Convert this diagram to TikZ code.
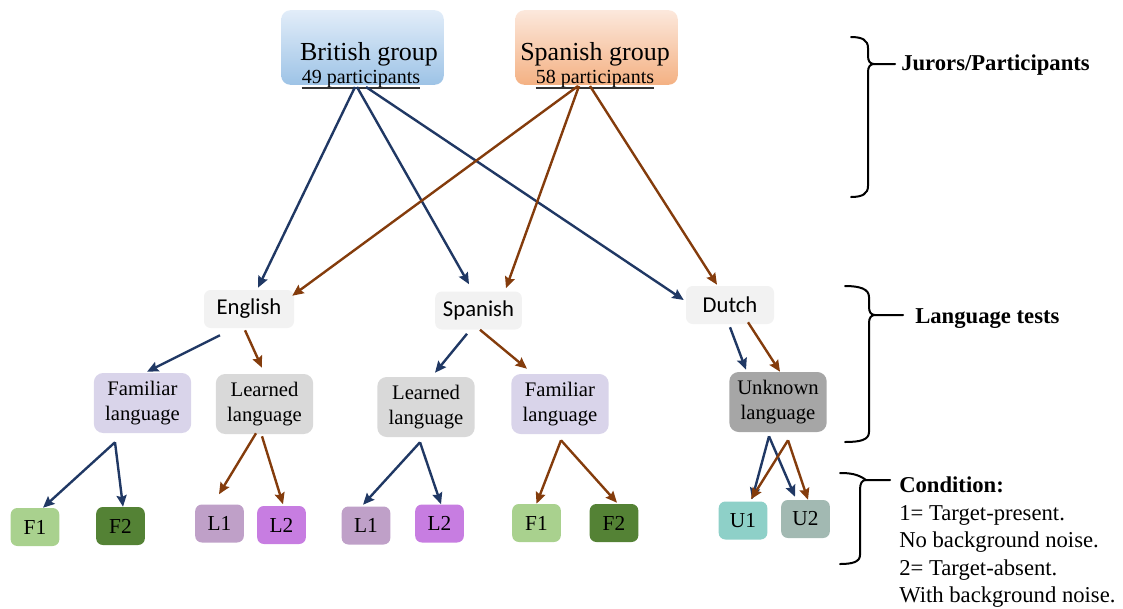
\documentclass[tikz,border=0pt]{standalone}
\usepackage{fontspec}
\setmainfont{Liberation Serif}
\newfontfamily\calfont{Carlito}
\usetikzlibrary{arrows.meta,calc}
\definecolor{navyc}{RGB}{32,56,100}
\definecolor{brownc}{RGB}{132,60,12}
\definecolor{bluetop}{RGB}{226,237,249}
\definecolor{bluebot}{RGB}{157,195,230}
\definecolor{orgtop}{RGB}{252,232,220}
\definecolor{orgbot}{RGB}{244,177,131}
\definecolor{langc}{RGB}{242,242,242}
\definecolor{famc}{RGB}{217,212,234}
\definecolor{lrnc}{RGB}{217,217,217}
\definecolor{unkc}{RGB}{166,166,166}
\definecolor{fonec}{RGB}{169,209,142}
\definecolor{ftwoc}{RGB}{84,130,53}
\definecolor{lonec}{RGB}{191,160,200}
\definecolor{ltwoc}{RGB}{199,125,225}
\definecolor{uonec}{RGB}{142,208,200}
\definecolor{utwoc}{RGB}{162,185,178}
\begin{document}
\begin{tikzpicture}[x=0.75pt,y=-0.75pt,
  ba/.style={draw=navyc, line width=1.8pt, -{Stealth[length=8.5pt,width=7.5pt,inset=1.2pt]}},
  bra/.style={draw=brownc, line width=1.8pt, -{Stealth[length=8.5pt,width=7.5pt,inset=1.2pt]}},
  topbox/.style={rounded corners=7pt, inner sep=0pt, minimum width=122pt, minimum height=56pt},
  txt/.style={inner sep=0pt},
  langbox/.style={fill=langc, rounded corners=5pt, inner sep=0pt, minimum height=28.5pt, font=\calfont\fontsize{17}{20}\selectfont},
  midbox/.style={rounded corners=7pt, align=center, inner sep=0pt, minimum width=73pt, minimum height=45pt, font=\fontsize{15.5}{18.5}\selectfont},
  smbox/.style={rounded corners=5pt, minimum width=36.5pt, minimum height=28.5pt, inner sep=0pt, font=\fontsize{16}{19}\selectfont},
  bracep/.style={line width=1.5pt, black, line cap=round, line join=round},
  lab/.style={inner sep=0pt, anchor=base west, font=\bfseries\fontsize{17}{20}\selectfont},
  cond/.style={inner sep=0pt, anchor=base west, font=\fontsize{17}{20}\selectfont},
]
\useasboundingbox (0,0) rectangle (1123,608);

% top groups
\node[topbox, top color=bluetop, bottom color=bluebot] (british) at (362.5,47.5) {};
\node[topbox, top color=orgtop, bottom color=orgbot] (spgroup) at (596.5,47.5) {};
\node[txt, anchor=base, font=\fontsize{19.5}{22}\selectfont] (btitle) at (369,60) {British group};
\node[txt, anchor=base, font=\fontsize{15}{18}\selectfont] (bpart) at (361,83) {49 participants};
\node[txt, anchor=base, font=\fontsize{19.5}{22}\selectfont] (stitle) at (595,60) {Spanish group};
\node[txt, anchor=base, font=\fontsize{15}{18}\selectfont] (spart) at (595,83) {58 participants};
\draw[line width=1.2pt, black!80] ($(bpart.base west)+(0,5)$) -- ($(bpart.base east)+(0,5)$);
\draw[line width=1.2pt, black!80] ($(spart.base west)+(0,5)$) -- ($(spart.base east)+(0,5)$);

% language tests
\node[langbox, minimum width=67.5pt] (english) at (249,309) {English};
\node[langbox, minimum width=65pt] (spanish) at (478.5,310.5) {Spanish};
\node[langbox, minimum width=66pt] (dutch) at (730,305) {Dutch};

% language types
\node[midbox, fill=famc] (fam1) at (142.5,403) {Familiar\\language};
\node[midbox, fill=lrnc] (lrn1) at (264.5,404) {Learned\\language};
\node[midbox, fill=lrnc] (lrn2) at (426,407) {Learned\\language};
\node[midbox, fill=famc] (fam2) at (560,404) {Familiar\\language};
\node[midbox, fill=unkc] (unk) at (778,402) {Unknown\\language};

% conditions
\node[smbox, fill=fonec] (f1a) at (35,527) {F1};
\node[smbox, fill=ftwoc] (f2a) at (120.5,526) {F2};
\node[smbox, fill=lonec] (l1a) at (219.5,523.5) {L1};
\node[smbox, fill=ltwoc] (l2a) at (281.5,525) {L2};
\node[smbox, fill=lonec] (l1b) at (366,525.5) {L1};
\node[smbox, fill=ltwoc] (l2b) at (439.5,523.5) {L2};
\node[smbox, fill=fonec] (f1b) at (536.5,523) {F1};
\node[smbox, fill=ftwoc] (f2b) at (614,523) {F2};
\node[smbox, fill=uonec] (u1) at (743,520.5) {U1};
\node[smbox, fill=utwoc] (u2) at (805.5,519) {U2};

% arrows from groups
\draw[ba] ($(bpart.base)+(-6,4)$) -- ($(english.north)+(9,-2)$);
\draw[ba] ($(bpart.base)+(-4,4)$) -- ($(spanish.north)+(-9.5,-7)$);
\draw[ba] ($(bpart.base)+(5,4)$) -- ($(dutch.west)+(-2,-5)$);
\draw[bra] ($(spart.base)+(-17,3)$) -- ($(english.north east)+(-2,6)$);
\draw[bra] ($(spart.base)+(-16,3)$) -- ($(spanish.north)+(27.5,-3)$);
\draw[bra] ($(spart.base)+(-5,3)$) -- ($(dutch.north)+(-13,-1)$);

% arrows from tests
\draw[ba] ($(english.south)+(-29,7)$) -- ($(fam1.north)+(4.5,-1)$);
\draw[bra] ($(english.south)+(-4,2)$) -- ($(lrn1.north)+(-2.5,-6)$);
\draw[ba] ($(spanish.south)+(-11.5,4)$) -- ($(lrn2.north)+(9,-4)$);
\draw[bra] ($(spanish.south)+(1.5,0)$) -- ($(fam2.north)+(-33,-5)$);
\draw[ba] ($(dutch.south)+(0,3)$) -- ($(unk.north)+(-32,-2)$);
\draw[bra] ($(dutch.south)+(18,-2)$) -- ($(unk.north)+(2,0)$);

% arrows to conditions
\draw[ba] ($(fam1.south)+(-27.5,9)$) -- ($(f1a.north)+(8,0)$);
\draw[ba] ($(fam1.south)+(-27.5,9)$) -- ($(f2a.north)+(2.5,0)$);
\draw[bra] ($(lrn1.south)+(-8.5,-1)$) -- ($(l1a.north)+(-0.5,-10)$);
\draw[bra] ($(lrn1.south)+(-2.5,2)$) -- ($(l2a.north)+(1.5,-1.5)$);
\draw[ba] ($(lrn2.south)+(-6,5)$) -- ($(l1b.north)+(-3,-1.5)$);
\draw[ba] ($(lrn2.south)+(-6,5)$) -- ($(l2b.north)+(1.5,0)$);
\draw[bra] ($(fam2.south)+(1,6)$) -- (f1b.north);
\draw[bra] ($(fam2.south)+(1,6)$) -- ($(f2b.north)+(3,-1)$);
\draw[ba] ($(unk.south)+(-9,4)$) -- ($(u1.north)+(9,-2)$);
\draw[ba] ($(unk.south)+(-9,4)$) -- ($(u2.north)+(-10.5,-3)$);
\draw[bra] ($(unk.south)+(10,8)$) -- ($(u1.north)+(8,-2)$);
\draw[bra] ($(unk.south)+(10,8)$) -- ($(u2.north)+(2.5,0)$);

% braces and labels
\coordinate (t1) at (874,64);
\coordinate (e1) at (895,64);
\draw[bracep] (851,37) .. controls (862,37) and (868,40) .. (868,48) -- (868,56) .. controls (868,61) and (870,64) .. (t1) -- (e1);
\draw[bracep] (t1) .. controls (870,64) and (868,67) .. (868,72) -- (868,186) .. controls (868,194) and (862,197) .. (851,197);
\node[lab] (jur) at (901,70) {Jurors/Participants};

\coordinate (t2) at (875,315);
\coordinate (e2) at (903,315);
\draw[bracep] (845,286) .. controls (860,286) and (869,289) .. (869,297) -- (869,307) .. controls (869,312) and (871,315) .. (t2) -- (e2);
\draw[bracep] (t2) .. controls (871,315) and (869,318) .. (869,323) -- (869,432) .. controls (869,440) and (860,442) .. (845,442);
\node[lab] (lang) at (915,323) {Language tests};

\coordinate (t3) at (866,480);
\coordinate (e3) at (890,480);
\draw[bracep] (840,473) .. controls (850,473) and (858,474) .. (t3) -- (e3);
\draw[bracep] (t3) .. controls (862,480) and (860,483) .. (860,490) -- (860,555) .. controls (860,562) and (852,564) .. (840,564);
\node[lab] (condh) at (899,492) {Condition:};
\node[cond] (c1) at (899,520) {1= Target-present.};
\node[cond] (c2) at (899,547) {No background noise.};
\node[cond] (c3) at (899,575) {2= Target-absent.};
\node[cond] (c4) at (899,602) {With background noise.};
\end{tikzpicture}
\end{document}
